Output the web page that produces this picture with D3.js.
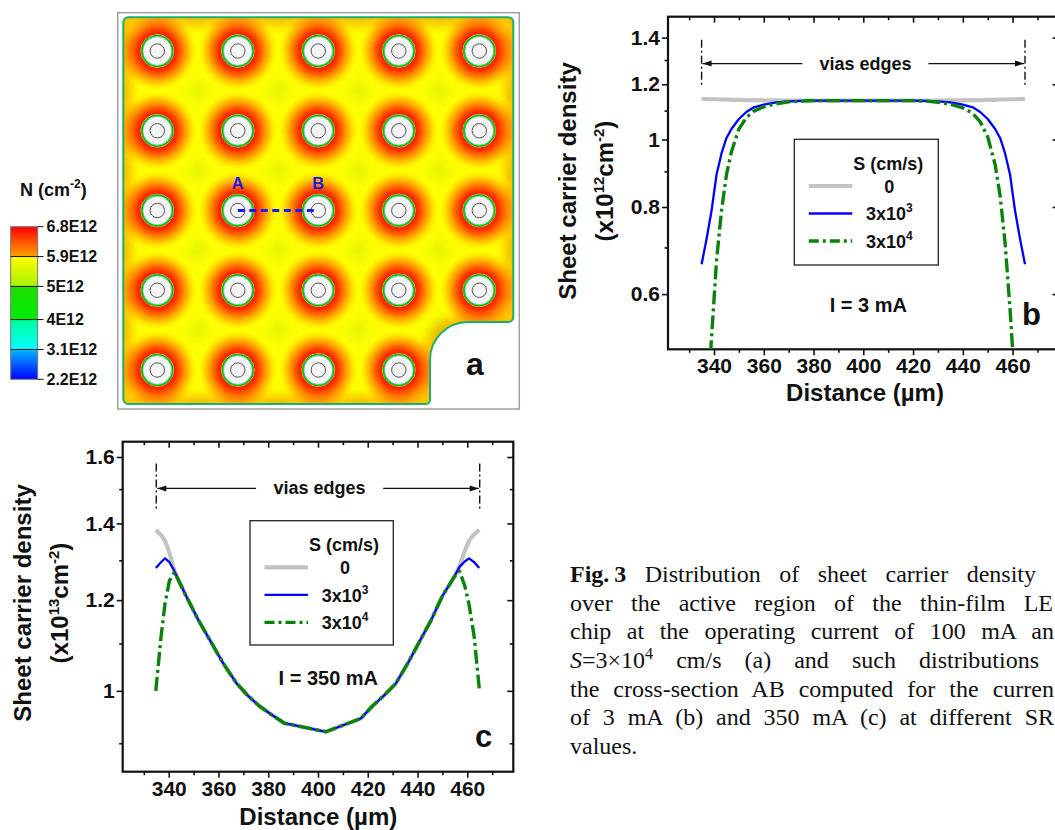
<!DOCTYPE html>
<html><head><meta charset="utf-8">
<script src="https://cdn.jsdelivr.net/npm/d3@7"></script>
<style>
html,body{margin:0;padding:0;background:#fff;overflow:hidden;width:1055px;height:830px;}
svg{position:absolute;left:0;top:0;}
#caption{position:absolute;left:570px;top:560px;font-family:"Liberation Serif","Times New Roman",serif;font-size:24px;line-height:28.7px;color:#111;}
#caption div{text-align:justify;text-align-last:justify;height:28.7px;white-space:normal;}
#caption div.last{text-align-last:left;}
#caption .sup{font-size:16px;position:relative;top:-9px;}
</style></head>
<body>
<svg id="fig" width="1055" height="830"></svg>
<div id="caption"></div>
<script>
// ================= DATA =================
// panel a : via grid (column / row index) and colour bar
const mapCols = [1, 2, 3, 4, 5];
const mapRows = [1, 2, 3, 4, 5];
const missingVia = [5, 5];
const cbTicks = [2.2, 3.1, 4, 5, 5.9, 6.8];
const cbLabels = ["2.2E12", "3.1E12", "4E12", "5E12", "5.9E12", "6.8E12"];

// panel b : I = 3 mA
const bDistance = [335,337,339,341,343,345,347,350,353,356,360,365,370,375,380,390,400,410,420,425,430,435,440,444,447,450,453,455,457,459,461,463,465];
const bS0   = [1.143,1.143,1.142,1.142,1.141,1.141,1.140,1.140,1.139,1.139,1.138,1.138,1.137,1.137,1.137,1.137,1.137,1.137,1.137,1.137,1.137,1.138,1.138,1.139,1.139,1.140,1.140,1.141,1.141,1.142,1.142,1.143,1.143];
const bS3e3 = [0.662,0.72,0.79,0.89,0.955,1.005,1.035,1.07,1.095,1.112,1.122,1.13,1.134,1.136,1.137,1.137,1.137,1.137,1.137,1.136,1.134,1.13,1.122,1.112,1.095,1.07,1.035,1.005,0.955,0.89,0.79,0.72,0.662];
const bS3e4 = [0.30,0.40,0.52,0.67,0.79,0.89,0.96,1.035,1.075,1.098,1.114,1.125,1.132,1.135,1.137,1.137,1.137,1.137,1.137,1.135,1.131,1.123,1.11,1.09,1.06,1.009,0.92,0.83,0.71,0.57,0.44,0.33,0.25];

// panel c : I = 350 mA
const cDistance = [334.8,336.9,338.5,340.3,342.3,347,352,357,362,367.3,371.7,376.4,381.1,386.5,403.2,417.2,421.9,426.6,431.3,436,440.7,445.4,450,454.7,456.9,459,460.7,462.8,464.8];
const cS0   = [1.382,1.368,1.352,1.32,1.272,1.21,1.152,1.103,1.056,1.015,0.991,0.97,0.954,0.937,0.921,0.946,0.97,0.991,1.015,1.056,1.103,1.152,1.21,1.257,1.285,1.325,1.352,1.37,1.382];
const cS3e3 = [1.28,1.295,1.305,1.295,1.272,1.21,1.152,1.103,1.056,1.015,0.991,0.97,0.954,0.937,0.921,0.946,0.97,0.991,1.015,1.056,1.103,1.152,1.21,1.257,1.283,1.297,1.305,1.295,1.28];
const cS3e4 = [1.0,1.114,1.191,1.248,1.269,1.21,1.152,1.103,1.056,1.015,0.991,0.97,0.954,0.937,0.921,0.946,0.97,0.991,1.015,1.056,1.103,1.152,1.21,1.257,1.272,1.235,1.19,1.114,1.005];

// axes
const xTicks = [340,360,380,400,420,440,460];
const xMinor = [330,350,370,390,410,430,450,470];
const bYTicks = [0.6,0.8,1,1.2,1.4];
const bYMinor = [0.7,0.9,1.1,1.3];
const cYTicks = [1,1.2,1.4,1.6];
const cYMinor = [0.9,1.1,1.3,1.5];
const viasEdges = [335, 465];
const seriesNames = ["0", "3x10|3", "3x10|4"];

// caption (visible part of each line)
const captionLines = [
  '<b>Fig.\u20093</b> Distribution of sheet carrier density',
  'over the active region of the thin-film LE',
  'chip at the operating current of 100 mA an',
  '<i>S</i>=3\u00d710<span class="sup">4</span> cm/s (a) and such distributions',
  'the cross-section AB computed for the curren',
  'of 3 mA (b) and 350 mA (c) at different SR',
  'values.'
];
const captionWidths = [466, 483, 484, 469, 484, 484, 200];

// ================= DRAW =================
const FONT = '"Liberation Sans", Arial, Helvetica, sans-serif';
const svg = d3.select('#fig');
const defs = svg.append('defs');

// ---------- panel a ----------
(function(){
  const mx = d3.scaleLinear().domain([1,5]).range([157.3,479.3]);
  const my = d3.scaleLinear().domain([1,5]).range([51,370]);
  const L=123.3, T=17.3, R=513.3, B=404;
  const vias = [];
  mapRows.forEach(r=>mapCols.forEach(c=>{ if(!(c===missingVia[0]&&r===missingVia[1])) vias.push({c,r}); }));

  const p = d3.path();
  p.moveTo(L+5,T); p.lineTo(R-5,T); p.arcTo(R,T,R,T+5,5);
  p.lineTo(R,317); p.arcTo(R,322,R-5,322,5);
  p.lineTo(468,322); p.arcTo(430,322,430,360,38); p.lineTo(430,B-4);
  p.arcTo(430,B,426,B,4); p.lineTo(L+5,B); p.arcTo(L,B,L,B-5,5);
  p.lineTo(L,T+5); p.arcTo(L,T,L+5,T,5); p.closePath();
  const dPath = p.toString();

  defs.append('clipPath').attr('id','mapclip').append('path').attr('d',dPath);
  const halo = defs.append('radialGradient').attr('id','halo');
  [[0,1],[0.65,1],[0.8,0.6],[1,0]].forEach(s=>halo.append('stop').attr('offset',s[0]).attr('stop-color','#ffff00').attr('stop-opacity',s[1]));
  const inner = defs.append('radialGradient').attr('id','inner');
  [[0,'#ff0000'],[0.38,'#ff1000'],[0.5,'#ff3000'],[0.6,'#ff6000'],[0.7,'#ff9400'],[0.8,'#ffc000'],[0.9,'#ffe800'],[1,'#ffff00']]
    .forEach(s=>inner.append('stop').attr('offset',s[0]).attr('stop-color',s[1]));
  const blur = defs.append('filter').attr('id','edgeblur').attr('x','-20%').attr('y','-20%').attr('width','140%').attr('height','140%');
  blur.append('feGaussianBlur').attr('stdDeviation',5);

  // frame
  svg.append('rect').attr('x',117.7).attr('y',12.7).attr('width',519.3-117.7).attr('height',B+5-12.7)
    .attr('fill','#fff').attr('stroke','#a0a0a0').attr('stroke-width',1.5);

  const gm = svg.append('g').attr('clip-path','url(#mapclip)');
  gm.append('path').attr('d',dPath).attr('fill','#d2f000');
  gm.selectAll('.halo').data(vias).join('circle').attr('cx',d=>mx(d.c)).attr('cy',d=>my(d.r)).attr('r',60).attr('fill','url(#halo)');
  gm.selectAll('.inner').data(vias).join('circle').attr('cx',d=>mx(d.c)).attr('cy',d=>my(d.r)).attr('r',39).attr('fill','url(#inner)');
  gm.append('path').attr('d',dPath).attr('fill','none').attr('stroke','#ffb000').attr('stroke-width',18)
    .attr('filter','url(#edgeblur)').style('mix-blend-mode','multiply').attr('opacity',0.75);
  const gv = gm.selectAll('.via').data(vias).join('g').attr('transform',d=>`translate(${mx(d.c)},${my(d.r)})`);
  gv.append('circle').attr('r',16.4).attr('fill','none').attr('stroke','#ffe000').attr('stroke-width',1);
  gv.append('circle').attr('r',15.4).attr('fill','none').attr('stroke','#12bf12').attr('stroke-width',1.8);
  gv.append('circle').attr('r',14.4).attr('fill','#f5f5f5').attr('stroke','#20d0b0').attr('stroke-width',0.7);
  gv.append('circle').attr('r',7.2).attr('fill','none').attr('stroke','#555').attr('stroke-width',1);
  svg.append('path').attr('d',dPath).attr('fill','none').attr('stroke','#18b070').attr('stroke-width',2);

  // cross-section AB
  svg.append('line').attr('x1',mx(2)).attr('x2',mx(3)).attr('y1',my(3)).attr('y2',my(3))
    .attr('stroke','#1a1aff').attr('stroke-width',3).attr('stroke-dasharray','7,4.5');
  [['A',2],['B',3]].forEach(a=>svg.append('text').attr('x',mx(a[1])).attr('y',188.5).attr('text-anchor','middle')
    .attr('font-family',FONT).attr('font-weight','bold').attr('font-size',16.5).attr('fill','#1a1ae6').text(a[0]));
  svg.append('text').attr('x',475).attr('y',375).attr('text-anchor','middle').attr('font-family',FONT)
    .attr('font-weight','bold').attr('font-size',32).attr('fill','#111').text('a');

  // colour bar
  const cy = d3.scaleLinear().domain([2.2,6.8]).range([379.3,226.7]);
  const cbStops = [[2.2,'#0000ff'],[3.1,'#00b8ff'],[3.1,'#00ffff'],[4,'#00ff99'],[4,'#00ee00'],[5,'#1fdd00'],[5,'#a8f000'],[5.9,'#ffff00'],[5.9,'#ffa200'],[6.8,'#ff0000']];
  const cg = defs.append('linearGradient').attr('id','cbgrad').attr('x1',0).attr('x2',0).attr('y1',1).attr('y2',0);
  cbStops.forEach(s=>cg.append('stop').attr('offset',(s[0]-2.2)/(6.8-2.2)).attr('stop-color',s[1]));
  svg.append('rect').attr('x',10.7).attr('y',cy(6.8)).attr('width',27).attr('height',cy(2.2)-cy(6.8))
    .attr('fill','url(#cbgrad)').attr('stroke','#777').attr('stroke-width',1);
  cbTicks.forEach((v,i)=>{
    const isEnd = (i===0||i===cbTicks.length-1);
    svg.append('line').attr('x1',isEnd?37.7:10.7).attr('x2',43.5).attr('y1',cy(v)).attr('y2',cy(v)).attr('stroke','#111').attr('stroke-width',1);
    svg.append('text').attr('x',46.5).attr('y',cy(v)).attr('dy','0.36em').attr('font-family',FONT).attr('font-weight','bold')
      .attr('font-size',16).attr('fill','#111').text(cbLabels[i]);
  });
  const tt = svg.append('text').attr('x',20).attr('y',196).attr('font-family',FONT).attr('font-weight','bold').attr('font-size',18).attr('fill','#111');
  tt.append('tspan').text('N (cm');
  tt.append('tspan').attr('dy',-8).attr('font-size',12).text('-2');
  tt.append('tspan').attr('dy',8).text(')');
})();

// ---------- panels b & c ----------
function drawPanel(o){
  const x = d3.scaleLinear().domain([321.5,478.5]).range([o.left,o.right]);
  const y = d3.scaleLog().domain(o.yDomain).range([o.bottom,o.top]);
  const g = svg.append('g');
  defs.append('clipPath').attr('id','clip'+o.id).append('rect')
    .attr('x',o.left).attr('y',o.top).attr('width',o.right-o.left).attr('height',o.bottom-o.top);
  const fmtY = d=> d===1 ? '1' : d3.format('.1f')(d);
  const ax = (tr,axis)=>g.append('g').attr('transform',tr).call(axis);
  ax(`translate(0,${o.bottom})`, d3.axisBottom(x).tickValues(xTicks).tickSize(6).tickPadding(3).tickFormat(d3.format('d')));
  ax(`translate(0,${o.bottom})`, d3.axisBottom(x).tickValues(xMinor).tickSize(3.5).tickFormat(''));
  ax(`translate(0,${o.top})`, d3.axisTop(x).tickValues(xTicks).tickSize(-6).tickFormat(''));
  ax(`translate(0,${o.top})`, d3.axisTop(x).tickValues(xMinor).tickSize(-3.5).tickFormat(''));
  ax(`translate(${o.left},0)`, d3.axisLeft(y).tickValues(o.yTicks).tickSize(6).tickPadding(2).tickFormat(fmtY));
  ax(`translate(${o.left},0)`, d3.axisLeft(y).tickValues(o.yMinor).tickSize(3.5).tickFormat(''));
  ax(`translate(${o.right},0)`, d3.axisRight(y).tickValues(o.yTicks).tickSize(-6).tickFormat(''));
  ax(`translate(${o.right},0)`, d3.axisRight(y).tickValues(o.yMinor).tickSize(-3.5).tickFormat(''));
  g.selectAll('.domain').remove();
  g.selectAll('.tick line').attr('stroke','#111').attr('stroke-width',1.6);
  g.selectAll('.tick text').attr('font-family',FONT).attr('font-weight','bold').attr('font-size',21).attr('fill','#111');
  g.append('rect').attr('x',o.left).attr('y',o.top).attr('width',o.right-o.left).attr('height',o.bottom-o.top)
    .attr('fill','none').attr('stroke','#111').attr('stroke-width',2.2);

  // axis titles
  g.append('text').attr('x',o.xTitle[0]).attr('y',o.xTitle[1]).attr('text-anchor','middle').attr('font-family',FONT)
    .attr('font-weight','bold').attr('font-size',24).attr('fill','#111').text('Distance (\u00b5m)');
  g.append('text').attr('transform',`translate(${o.yTitle[0]},${o.yTitle[2]}) rotate(-90)`).attr('text-anchor','middle')
    .attr('font-family',FONT).attr('font-weight','bold').attr('font-size',24).attr('fill','#111').text('Sheet carrier density');
  const t2 = g.append('text').attr('transform',`translate(${o.yTitle[1]},${o.yTitle[2]}) rotate(-90)`).attr('text-anchor','middle')
    .attr('font-family',FONT).attr('font-weight','bold').attr('font-size',24).attr('fill','#111');
  t2.append('tspan').text('(x10');
  t2.append('tspan').attr('dy',-9).attr('font-size',15).text(o.exp);
  t2.append('tspan').attr('dy',9).text('cm');
  t2.append('tspan').attr('dy',-9).attr('font-size',15).text('-2');
  t2.append('tspan').attr('dy',9).text(')');

  // series
  const styles = [
    {color:'#c3c3c3', w:4.2, dash:null},
    {color:'#0000ff', w:2.3, dash:null},
    {color:'#0b820b', w:3.4, dash:'14,4,3,4'}
  ];
  const line = d3.line().x(d=>x(d[0])).y(d=>y(d[1]));
  const gs = g.append('g').attr('clip-path',`url(#clip${o.id})`);
  o.series.forEach((vals,i)=>{
    gs.append('path').datum(o.dist.map((d,k)=>[d,vals[k]])).attr('d',line).attr('fill','none')
      .attr('stroke',styles[i].color).attr('stroke-width',styles[i].w).attr('stroke-dasharray',styles[i].dash)
      .attr('stroke-linejoin','round');
  });

  // vias edges annotation
  const ga = g.append('g');
  viasEdges.forEach(v=>ga.append('line').attr('x1',x(v)).attr('x2',x(v)).attr('y1',y(o.edge[0])).attr('y2',y(o.edge[1]))
    .attr('stroke','#111').attr('stroke-width',1.4).attr('stroke-dasharray','8,3,2,3'));
  const ay = y(o.edge[2]);
  const arrow = (x1,x2)=>{
    ga.append('line').attr('x1',x1).attr('x2',x2).attr('y1',ay).attr('y2',ay).attr('stroke','#111').attr('stroke-width',1.2);
    const dir = Math.sign(x2-x1);
    ga.append('path').attr('d',`M${x2},${ay} L${x2-dir*9},${ay-3} L${x2-dir*9},${ay+3} Z`).attr('fill','#111');
  };
  arrow(x(o.gap[0]), x(viasEdges[0])+1);
  arrow(x(o.gap[1]), x(viasEdges[1])-1);
  ga.append('text').attr('x',(x(o.gap[0])+x(o.gap[1]))/2).attr('y',ay+6).attr('text-anchor','middle').attr('font-family',FONT)
    .attr('font-weight','bold').attr('font-size',18).attr('fill','#111').text('vias edges');

  // legend
  const lg = g.append('g').attr('transform',`translate(${o.legend[0]},${o.legend[1]})`);
  lg.append('rect').attr('width',o.legend[2]).attr('height',o.legend[3]).attr('fill','#fff').attr('stroke','#222').attr('stroke-width',1.3);
  lg.append('text').attr('x',94).attr('y',30.5).attr('text-anchor','middle').attr('font-family',FONT).attr('font-weight','bold')
    .attr('font-size',18).attr('fill','#111').text('S (cm/s)');
  seriesNames.forEach((nm,i)=>{
    const ry = 46.7 + i*27.5;
    lg.append('line').attr('x1',14.5).attr('x2',58).attr('y1',ry).attr('y2',ry).attr('stroke',styles[i].color)
      .attr('stroke-width',styles[i].w).attr('stroke-dasharray',i===2?'10,4,3,4':null);
    const t = lg.append('text').attr('x',95).attr('y',ry+6.8).attr('text-anchor','middle').attr('font-family',FONT)
      .attr('font-weight','bold').attr('font-size',18).attr('fill','#111');
    const parts = nm.split('|');
    t.append('tspan').text(parts[0]);
    if(parts[1]) t.append('tspan').attr('dy',-8).attr('font-size',12).text(parts[1]);
  });

  // current label & panel letter
  g.append('text').attr('x',o.current[0]).attr('y',o.current[1]).attr('text-anchor','middle').attr('font-family',FONT)
    .attr('font-weight','bold').attr('font-size',20).attr('fill','#111').text(o.current[2]);
  g.append('text').attr('x',o.letter[0]).attr('y',o.letter[1]).attr('font-family',FONT)
    .attr('font-weight','bold').attr('font-size',31).attr('fill','#111').text(o.letter[2]);
}

drawPanel({id:'b', left:668, right:1058.6, top:16.7, bottom:349.3, yDomain:[0.5,1.5],
  yTicks:bYTicks, yMinor:bYMinor, dist:bDistance, series:[bS0,bS3e3,bS3e4], exp:'12',
  xTitle:[865,401], yTitle:[576,613,181],
  edge:[1.39,1.192,1.285], gap:[375.5,426.2],
  legend:[794.3,139.3,144,125.7], current:[868.3,311.7,'I = 3 mA'], letter:[1022,325,'b']});

drawPanel({id:'c', left:122.7, right:513.3, top:441.7, bottom:771.7, yDomain:[0.85,1.65],
  yTicks:cYTicks, yMinor:cYMinor, dist:cDistance, series:[cS0,cS3e3,cS3e4], exp:'13',
  xTitle:[318.3,825], yTitle:[31,68,603],
  edge:[1.579,1.436,1.502], gap:[375.1,426.2],
  legend:[250,520.7,143.3,124.3], current:[328.3,685,'I = 350 mA'], letter:[475,746.7,'c']});

// caption
d3.select('#caption').selectAll('div').data(captionLines).join('div')
  .attr('class',(d,i)=>i===captionLines.length-1?'last':null)
  .style('width',(d,i)=>captionWidths[i]+'px').html(d=>d);
</script>
</body></html>
